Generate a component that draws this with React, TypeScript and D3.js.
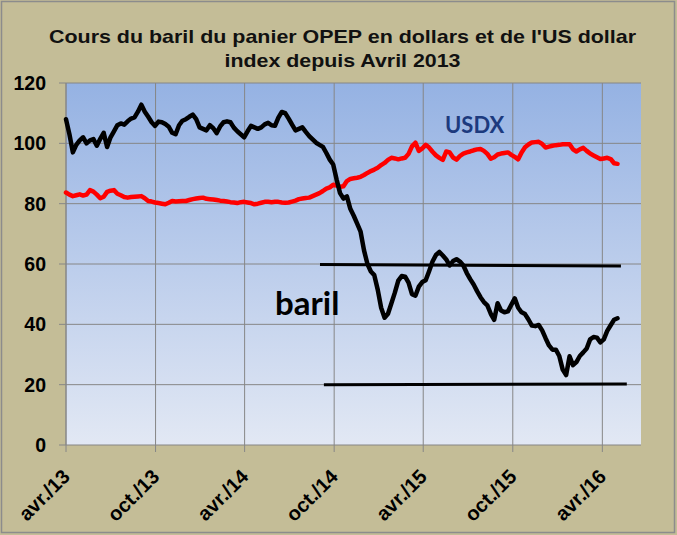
import React from 'react';
import * as d3 from 'd3';

const START_DATE = '2013-04-01';
const DOMAIN_END = '2016-06-19';

// OPEC basket price, weekly readings from START_DATE
const baril = [
  108, 103, 97, 99.5, 101, 102, 100, 101, 101.4, 99.2,
  101.5, 103.5, 98.8, 102, 104, 106, 106.6, 106.2, 107.3, 108.2,
  108.6, 110.5, 112.8, 110.5, 108.8, 107, 105.8, 107.2, 107, 106.4,
  105.5, 103.5, 103, 106, 107.5, 108, 108.8, 109.5, 108, 105.3,
  104.8, 104.3, 106, 105, 103.4, 105.6, 107, 107.3, 107, 105.2,
  104, 103, 102, 104, 105.8, 105.3, 104.8, 105.3, 106.3, 106.8,
  106, 105.8, 108.5, 110.4, 110, 108.2, 106.2, 104.3, 104.8, 105.3,
  103.8, 102.4, 101.3, 100.2, 99.5, 98.8, 96.8, 94.6, 93, 88,
  83.5, 81.7, 82.4, 78.3, 76, 73.4, 70.7, 64.5, 60, 57.5,
  56.3, 51.5, 45.5, 42.2, 43.5, 47, 50.5, 54.5, 56, 55.8,
  53.8, 50, 49.5, 52.5, 54, 54.6, 57.6, 60.8, 63, 64,
  62.8, 61.5, 59.5, 61, 61.6, 60.8, 59.5, 57, 55, 53.2,
  51, 49, 47.4, 46.3, 43.5, 41.5, 47, 44.6, 44, 44.3,
  46.5, 48.6, 45.5, 44, 43.4, 41.6, 39.6, 39.4, 39.8, 38,
  35.4, 33, 31.6, 31.6, 29.5, 25, 23.2, 29.4, 26.5, 27.5,
  29.5, 30.7, 32, 35, 35.8, 35.6, 34, 35, 37.8, 39.7,
  41.5, 42,
];

// US dollar index, weekly readings from START_DATE
const usdx = [
  83.7, 83, 82.5, 82.8, 83.1, 82.7, 83, 84.5, 84, 83,
  81.8, 82.3, 83.9, 84.3, 84.5, 83.3, 82.8, 82.2, 82, 82.2,
  82.3, 82.4, 82.5, 81.8, 80.9, 80.7, 80.4, 80.2, 80, 79.8,
  80.3, 80.9, 80.7, 80.8, 80.9, 80.9, 81.2, 81.5, 81.7, 81.9,
  82, 81.6, 81.5, 81.4, 81.2, 81, 80.9, 80.7, 80.5, 80.4,
  80.2, 80.5, 80.6, 80.4, 80.2, 79.8, 80, 80.3, 80.6, 80.6,
  80.5, 80.6, 80.6, 80.4, 80.3, 80.4, 80.7, 81, 81.5, 81.7,
  81.9, 82, 82.5, 83, 83.5, 84.2, 85, 85.4, 86.3, 86,
  85.6, 85.8, 87.5, 88.2, 88.4, 88.6, 88.9, 89.5, 90.2, 90.8,
  91.3, 91.9, 92.8, 93.5, 94.5, 95.2, 95, 94.7, 95, 95.2,
  96.5, 99, 100.2, 97.5, 98.3, 99.5, 98.6, 97.2, 96, 95.2,
  94.5, 97.3, 97, 95.3, 94.6, 95.8, 96.6, 97, 97.3, 97.7,
  98, 98.1, 97.5, 96.5, 94.9, 95.4, 96.3, 96.6, 96.8, 97,
  96.2, 95.5, 94.7, 97, 98.7, 99.6, 100.3, 100.4, 100.5, 99.8,
  98.6, 98.9, 99.2, 99.4, 99.5, 99.7, 99.7, 99.7, 98, 97.3,
  98, 98.5, 97.5, 96.6, 96, 95.4, 94.8, 95, 95.2, 94.8,
  93.4, 93.2,
];

const tickDates = ['2013-04-01', '2013-10-01', '2014-04-01', '2014-10-01', '2015-04-01', '2015-10-01', '2016-04-01'];
const tickLabels = ['avr./13', 'oct./13', 'avr./14', 'oct./14', 'avr./15', 'oct./15', 'avr./16'];
const yTicks = [0, 20, 40, 60, 80, 100, 120];

const upperLineDates = ['2014-09-02', '2016-05-09'];
const upperLineValues = [59.8, 59.3];
const lowerLineDates = ['2014-09-10', '2016-05-21'];
const lowerLineValues = [20.0, 20.2];

const titleLines = ["Cours du baril du panier OPEP  en dollars et de l'US dollar", 'index depuis Avril  2013'];

const W = 677;
const H = 535;
const PL = 66;
const PR = 641;
const PT = 83;
const PB = 445;

export default function App() {
  const parse = d3.timeParse('%Y-%m-%d');
  const start = parse(START_DATE) as Date;
  const x = d3.scaleTime().domain([start, parse(DOMAIN_END) as Date]).range([PL, PR]);
  const y = d3.scaleLinear().domain([0, 120]).range([PB, PT]);

  const dates = baril.map((_, i) => d3.timeDay.offset(start, 7 * i));
  const line = d3
    .line<[Date, number]>()
    .x((d) => x(d[0]))
    .y((d) => y(d[1]));

  const barilPath = line(baril.map((v, i) => [dates[i], v]));
  const usdxPath = line(usdx.map((v, i) => [dates[i], v]));
  const upperPath = line(upperLineDates.map((d, i) => [parse(d) as Date, upperLineValues[i]]));
  const lowerPath = line(lowerLineDates.map((d, i) => [parse(d) as Date, lowerLineValues[i]]));

  const grid = '#868686';
  const titleWidths = [587, 236];

  return (
    <svg
      width={W}
      height={H}
      style={{ position: 'absolute', left: 0, top: 0, display: 'block' }}
      fontFamily="'Liberation Sans', Arial, sans-serif"
    >
      <defs>
        <linearGradient id="plotbg" x1="0" y1="0" x2="0" y2="1">
          <stop offset="0" stopColor="#95b2e3" />
          <stop offset="1" stopColor="#e2e8f4" />
        </linearGradient>
      </defs>
      <rect x={0} y={0} width={W} height={H} fill="#c4bd97" />
      <rect x={1.5} y={1.5} width={W - 4} height={H - 4} fill="none" stroke="#8c8c8c" strokeWidth={1.5} />
      {titleLines.map((t, i) => (
        <text
          key={i}
          x={342.5}
          y={43 + i * 23.5}
          textAnchor="middle"
          fontWeight="bold"
          fontSize={18.5}
          fill="#111"
          textLength={titleWidths[i]}
          lengthAdjust="spacingAndGlyphs"
        >
          {t}
        </text>
      ))}
      <rect x={PL} y={PT} width={PR - PL} height={PB - PT} fill="url(#plotbg)" />
      {yTicks.map((t) => (
        <g key={t}>
          <line x1={PL - 7} x2={PR} y1={y(t)} y2={y(t)} stroke={grid} strokeWidth={1} />
          <text x={46} y={y(t)} dy="0.36em" textAnchor="end" fontWeight="bold" fontSize={19.5} fill="#000">
            {t}
          </text>
        </g>
      ))}
      {tickDates.map((d, i) => {
        const xx = x(parse(d) as Date);
        return (
          <g key={d}>
            <line x1={xx} x2={xx} y1={PT} y2={PB + 7} stroke={grid} strokeWidth={1} />
            <text
              transform={`translate(${xx + 5},${PB + 33}) rotate(-45)`}
              textAnchor="end"
              fontWeight="bold"
              fontSize={20}
              fill="#000"
            >
              {tickLabels[i]}
            </text>
          </g>
        );
      })}
      <line x1={PL} x2={PL} y1={PT} y2={PB} stroke={grid} strokeWidth={1} />
      <path d={usdxPath ?? ''} fill="none" stroke="#ff0000" strokeWidth={4.5} strokeLinejoin="round" strokeLinecap="round" />
      <path d={barilPath ?? ''} fill="none" stroke="#000" strokeWidth={4.5} strokeLinejoin="round" strokeLinecap="round" />
      <path d={upperPath ?? ''} fill="none" stroke="#000" strokeWidth={3} />
      <path d={lowerPath ?? ''} fill="none" stroke="#000" strokeWidth={3} />
      <text x={445} y={133} fontFamily="Lato, sans-serif" fontWeight="bold" fontSize={22} fill="#1c3a7e">
        USDX
      </text>
      <text x={275} y={315} fontFamily="Lato, sans-serif" fontWeight="bold" fontSize={33} fill="#000">
        baril
      </text>
    </svg>
  );
}
